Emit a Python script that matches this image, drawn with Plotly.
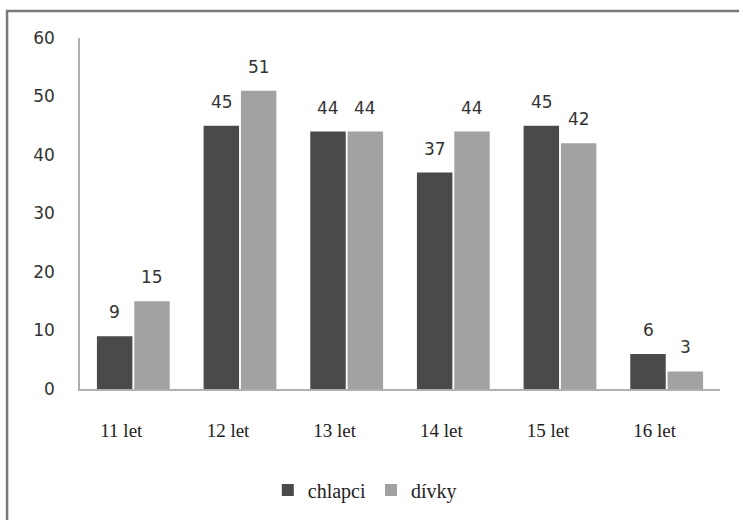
import plotly.graph_objects as go

categories = ["11 let", "12 let", "13 let", "14 let", "15 let", "16 let"]
chlapci = [9, 45, 44, 37, 45, 6]
divky = [15, 51, 44, 44, 42, 3]
y_ticks = [0, 10, 20, 30, 40, 50, 60]

c_boys = "#4a4a4a"
c_girls = "#a2a2a2"

fig = go.Figure()
fig.add_bar(x=categories, y=chlapci, name="chlapci", marker=dict(color=c_boys, line=dict(width=0)))
fig.add_bar(x=categories, y=divky, name="dívky", marker=dict(color=c_girls, line=dict(width=0)))

lab_font = dict(family="DejaVu Sans", size=17, color="#333333")
ann = []
for cat, v in zip(categories, chlapci):
    ann.append(dict(x=cat, y=v, xref="x", yref="y", text=str(v), showarrow=False,
                    xshift=-18.5, yshift=24, yanchor="middle", font=lab_font))
for cat, v in zip(categories, divky):
    ann.append(dict(x=cat, y=v, xref="x", yref="y", text=str(v), showarrow=False,
                    xshift=18.5, yshift=24, yanchor="middle", font=lab_font))

fig.update_layout(
    width=739, height=520,
    margin=dict(l=80, r=19, t=38, b=130),
    paper_bgcolor="white", plot_bgcolor="white",
    barmode="group", bargap=0.3, bargroupgap=0.05,
    showlegend=True,
    legend=dict(orientation="h", x=0.445, xanchor="center", y=-0.284, yanchor="middle",
                bgcolor="rgba(0,0,0,0)",
                font=dict(family="Liberation Serif", size=20, color="#222222"),
                tracegroupgap=0, itemsizing="constant"),
    annotations=ann,
    xaxis=dict(showgrid=False, showline=True, linecolor="#b0b0b0", linewidth=1.5,
               ticks="outside", ticklen=23, tickcolor="rgba(0,0,0,0)",
               ticklabelshift=-12,
               tickfont=dict(family="Liberation Serif", size=19, color="#222222"),
               zeroline=False),
    yaxis=dict(range=[0, 60], tickvals=y_ticks, showgrid=False, showline=True,
               linecolor="#b0b0b0", linewidth=1.5,
               ticks="outside", ticklen=20, tickcolor="rgba(0,0,0,0)",
               tickfont=dict(family="DejaVu Sans", size=17, color="#333333"),
               zeroline=False),
    shapes=[dict(type="rect", xref="paper", yref="paper",
                 x0=-0.114, x1=1.06, y0=-0.42, y1=1.077,
                 line=dict(color="#7a7a7a", width=2.5), fillcolor="rgba(0,0,0,0)", layer="below")],
)

fig.write_html("out.html")
